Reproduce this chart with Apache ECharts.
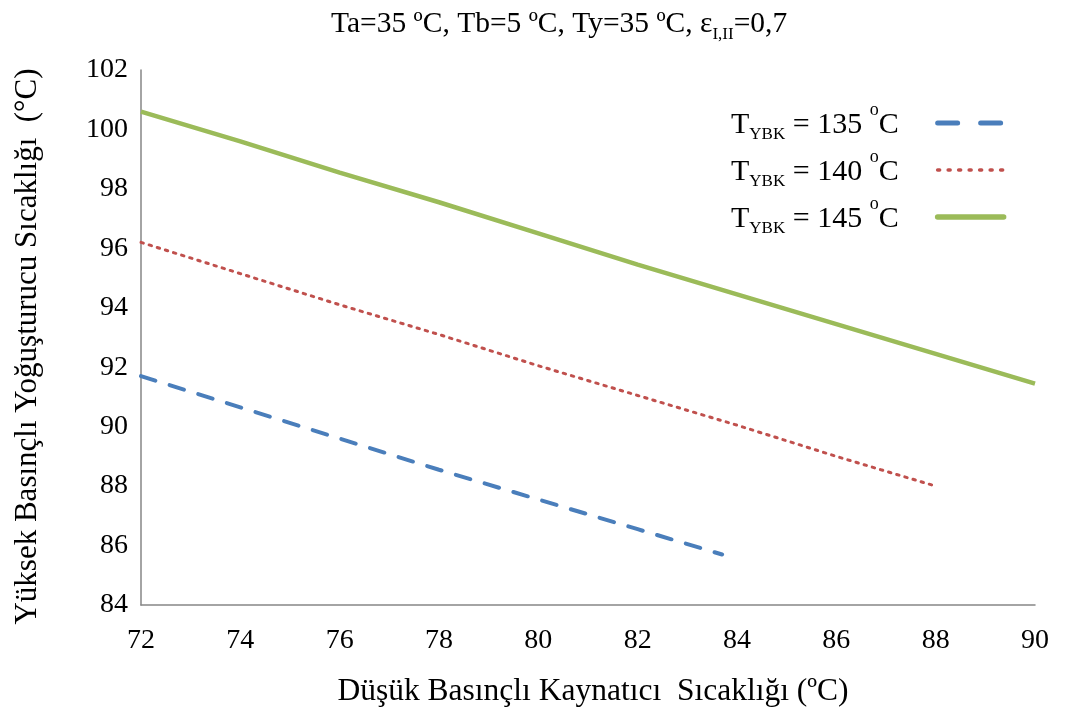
<!DOCTYPE html>
<html>
<head>
<meta charset="utf-8">
<script src="https://cdn.jsdelivr.net/npm/echarts@6/dist/echarts.min.js"></script>
<style>
  html, body { margin: 0; padding: 0; background: #fff; }
  #chart { width: 1065px; height: 717px; }
</style>
</head>
<body>
<div id="chart"></div>
<script>
// Low-pressure boiler temperature (x) vs high-pressure condenser temperature (y)
const xTicks = [72, 74, 76, 78, 80, 82, 84, 86, 88, 90];
const yTicks = [84, 86, 88, 90, 92, 94, 96, 98, 100, 102];

const seriesNames = ['135', '140', '145'];

const x135 = [72, 74, 76, 78, 80, 82, 83.7];
const y135 = [91.7, 90.65, 89.6, 88.55, 87.55, 86.55, 85.7];

const x140 = [72, 74, 76, 78, 80, 82, 84, 86, 88];
const y140 = [96.2, 95.15, 94.1, 93.1, 92.05, 91.05, 90.05, 89.0, 88.0];

const x145 = [72, 74, 76, 78, 80, 82, 84, 86, 88, 90];
const y145 = [100.6, 99.6, 98.55, 97.55, 96.5, 95.45, 94.45, 93.45, 92.45, 91.45];

const FONT = '"Liberation Serif", "Times New Roman", serif';
const BLUE = '#4a7ebb', RED = '#c0504d', GREEN = '#9bbb59';

function pairs(xs, ys) { return xs.map((x, i) => [x, ys[i]]); }

const chart = echarts.init(document.getElementById('chart'), null, { renderer: 'canvas' });

chart.setOption({
  backgroundColor: '#ffffff',
  animation: false,
  title: {
    text: '{t|Ta=35 ºC, Tb=5 ºC, Ty=35 ºC, ε}{s|I,II}{t|=0,7}',
    left: 326,
    top: 2,
    textStyle: {
      fontWeight: 'normal',
      rich: {
        t: { fontFamily: FONT, fontSize: 29.5, fontWeight: 'normal', color: '#000', lineHeight: 32, verticalAlign: 'bottom' },
        s: { fontFamily: FONT, fontSize: 17, fontWeight: 'normal', color: '#000', lineHeight: 22, verticalAlign: 'bottom', padding: [0, 0, -4, 0] }
      }
    }
  },
  legend: {
    orient: 'vertical',
    left: 726,
    top: 96,
    align: 'right',
    itemWidth: 66,
    itemHeight: 14,
    itemGap: 5,
    itemStyle: { opacity: 0 },
    data: [
      { name: '135', lineStyle: { color: BLUE, width: 5, type: [20, 23], cap: 'round' } },
      { name: '140', lineStyle: { color: RED, width: 3.5, type: [2, 8.5], cap: 'round' } },
      { name: '145', lineStyle: { color: GREEN, width: 5.5, type: 'solid', cap: 'round' } }
    ],
    formatter: function (name) {
      return '{t|T}{s|YBK}{t| = ' + name + ' }{o|o}{t|C}{g| }';
    },
    textStyle: {
      rich: {
        t: { fontFamily: FONT, fontSize: 30, color: '#000', lineHeight: 34, verticalAlign: 'bottom' },
        s: { fontFamily: FONT, fontSize: 17, color: '#000', lineHeight: 20, verticalAlign: 'bottom', padding: [0, 0, -3, 0] },
        o: { fontFamily: FONT, fontSize: 18, color: '#000', lineHeight: 34, verticalAlign: 'top', padding: [-5, 0, 0, 0] },
        g: { width: 34 }
      }
    }
  },
  grid: {
    left: 141,
    right: 30,
    top: 70,
    bottom: 112,
    containLabel: false
  },
  xAxis: {
    type: 'value',
    min: 72,
    max: 90,
    interval: 2,
    name: 'Düşük Basınçlı Kaynatıcı  Sıcaklığı (ºC)',
    nameLocation: 'middle',
    nameGap: 71,
    nameTextStyle: { fontFamily: FONT, fontSize: 31.5, color: '#000', padding: [0, 0, 0, 10] },
    axisLine: { show: true, lineStyle: { color: '#868686', width: 1.5 } },
    axisTick: { show: false },
    splitLine: { show: false },
    axisLabel: {
      margin: 22,
      fontFamily: FONT,
      fontSize: 28,
      color: '#000',
      formatter: v => xTicks.includes(v) ? String(v) : ''
    }
  },
  yAxis: {
    type: 'value',
    min: 84,
    max: 102,
    interval: 2,
    name: 'Yüksek Basınçlı Yoğuşturucu Sıcaklığı  (°C)',
    nameLocation: 'middle',
    nameGap: 98,
    nameRotate: 90,
    nameTextStyle: { fontFamily: FONT, fontSize: 31, color: '#000', padding: [0, 18, 0, 0] },
    axisLine: { show: true, lineStyle: { color: '#868686', width: 1.5 } },
    axisTick: { show: false },
    splitLine: { show: false },
    axisLabel: {
      margin: 13,
      fontFamily: FONT,
      fontSize: 28,
      color: '#000',
      formatter: v => yTicks.includes(v) ? String(v) : ''
    }
  },
  series: [
    {
      name: '135',
      type: 'line',
      symbol: 'none',
      data: pairs(x135, y135),
      lineStyle: { color: BLUE, width: 4, type: [15, 15], cap: 'round' },
      itemStyle: { color: BLUE }
    },
    {
      name: '140',
      type: 'line',
      symbol: 'none',
      data: pairs(x140, y140),
      lineStyle: { color: RED, width: 3, type: [2.5, 6], cap: 'round' },
      itemStyle: { color: RED }
    },
    {
      name: '145',
      type: 'line',
      symbol: 'none',
      data: pairs(x145, y145),
      lineStyle: { color: GREEN, width: 4.5, type: 'solid', cap: 'butt' },
      itemStyle: { color: GREEN }
    }
  ]
});
</script>
</body>
</html>
